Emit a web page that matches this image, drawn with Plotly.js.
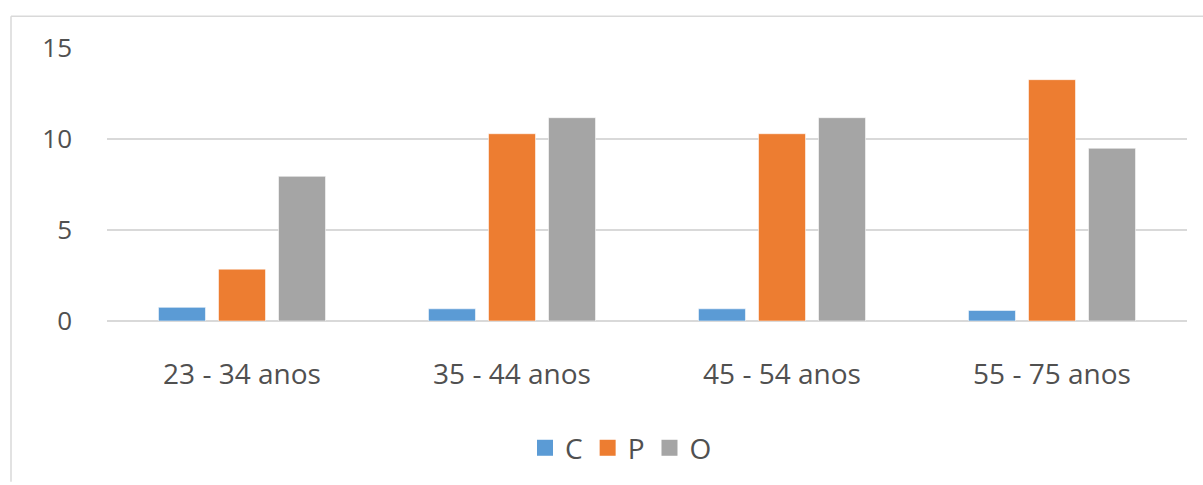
<!DOCTYPE html>
<html>
<head>
<meta charset="utf-8">
<script src="https://cdn.plot.ly/plotly-3.0.1.min.js"></script>
<style>html,body{margin:0;padding:0;background:#fff;}#chart{width:1203px;height:485px;}</style>
</head>
<body>
<div id="chart"></div>
<script>
const categories = ["23 - 34 anos", "35 - 44 anos", "45 - 54 anos", "55 - 75 anos"];
const seriesNames = ["C", "P", "O"];
const valuesC = [0.75, 0.67, 0.67, 0.58];
const valuesP = [2.85, 10.29, 10.29, 13.26];
const valuesO = [7.95, 11.17, 11.17, 9.49];
const yTicks = [0, 5, 10, 15];
const colors = ["#5B9BD5", "#ED7D31", "#A5A5A5"];

const series = [valuesC, valuesP, valuesO];
const traces = [];
series.forEach((vals, i) => {
  traces.push({
    type: "bar", x: categories, y: vals, name: seriesNames[i],
    marker: {color: colors[i], line: {color: "rgba(255,255,255,0.55)", width: 1}},
    showlegend: false, hoverinfo: "y"
  });
});
series.forEach((vals, i) => {
  traces.push({
    type: "scatter", mode: "markers", x: [categories[0]], y: [null], name: seriesNames[i],
    marker: {symbol: "square", size: 19, color: colors[i]},
    showlegend: true, hoverinfo: "skip"
  });
});

const W = 1203, H = 485, L = 107, R = 16, T = 48, B = 162;
const pw = W - L - R, ph = H - T - B;
const px = x => (x - L) / pw;
const py = y => (H - B - y) / ph;
const txt = "#505050";

const layout = {
  width: W, height: H,
  margin: {l: L, r: R, t: T, b: B, pad: 0},
  paper_bgcolor: "#fff", plot_bgcolor: "#fff",
  font: {family: "Open Sans, sans-serif", color: txt, size: 26},
  barmode: "group", bargap: 0.333, bargroupgap: 0.217,
  xaxis: {
    type: "category", showgrid: false, zeroline: false, showline: false,
    ticks: "", ticklabelstandoff: 34, tickfont: {size: 28, color: txt}
  },
  yaxis: {
    range: [0, 15], tickvals: yTicks, ticktext: yTicks.map(String),
    showgrid: true, gridcolor: "#D9D9D9", gridwidth: 1.5, zeroline: true, zerolinecolor: "#D9D9D9", zerolinewidth: 1.5,
    showline: false, ticks: "", ticklabelstandoff: 34, tickfont: {size: 26, color: txt}
  },
  legend: {
    orientation: "h", x: px(621), xanchor: "center", y: py(451), yanchor: "middle",
    font: {size: 28, color: txt}, itemwidth: 30, bgcolor: "rgba(0,0,0,0)"
  },
  shapes: [
    {type: "line", xref: "paper", yref: "paper", x0: px(11), x1: px(1203), y0: py(16), y1: py(16), line: {color: "#D9D9D9", width: 1.5}},
    {type: "line", xref: "paper", yref: "paper", x0: px(11), x1: px(11), y0: py(16), y1: py(485), line: {color: "#D9D9D9", width: 1.5}}
  ]
};

Plotly.newPlot("chart", traces, layout, {displayModeBar: false, staticPlot: true});
</script>
</body>
</html>
